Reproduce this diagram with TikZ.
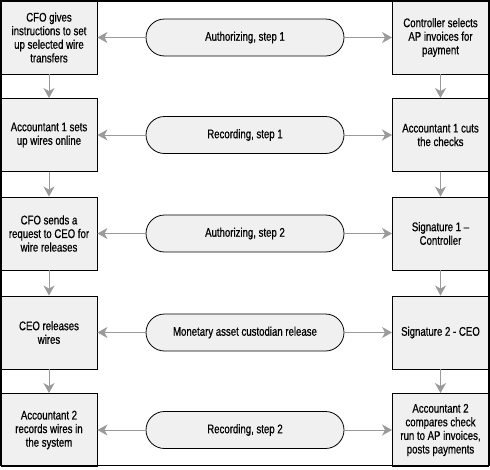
\documentclass[tikz,border=0pt]{standalone}
\usepackage{fontspec}
\setmainfont{Liberation Sans}[FakeStretch=0.77,FakeBold=0.6]
\usetikzlibrary{arrows.meta}
\definecolor{boxfill}{HTML}{F0F0F0}
\definecolor{arrowgray}{HTML}{9A9A9A}
\begin{document}
\begin{tikzpicture}[x=1pt,y=1pt,
  proc/.style={draw=black,line width=0.9pt,fill=boxfill,minimum width=96pt,minimum height=73pt,
    align=center,inner sep=0pt,font=\fontsize{12.5}{13.6}\selectfont},
  pill/.style={draw=black,line width=0.8pt,fill=boxfill,rounded corners=18.5pt,minimum width=198pt,minimum height=37pt,
    inner sep=0pt,font=\fontsize{12.5}{13.6}\selectfont},
  conn/.style={draw=arrowgray,line width=1pt,-{Stealth[length=10pt,width=11pt,inset=3pt]}}]
\useasboundingbox (0,0) rectangle (490,-469);
% left column
\node[proc] (L1) at (49,-37.5) {CFO gives\\instructions to set\\up selected wire\\transfers};
\node[proc] (L2) at (49,-135) {Accountant 1 sets\\up wires online};
\node[proc] (L3) at (49,-233.5) {CFO sends a\\request to CEO for\\wire releases};
\node[proc] (L4) at (49,-332.5) {CEO releases\\wires};
\node[proc] (L5) at (49,-430) {Accountant 2\\records wires in\\the system};
% right column
\node[proc] (R1) at (440.5,-37.5) {Controller selects\\AP invoices for\\payment};
\node[proc] (R2) at (440.5,-135) {Accountant 1 cuts\\the checks};
\node[proc] (R3) at (440.5,-233.5) {Signature 1 --\\Controller};
\node[proc] (R4) at (440.5,-332.5) {Signature 2 - CEO};
\node[proc] (R5) at (440.5,-430) {Accountant 2\\compares check\\run to AP invoices,\\posts payments};
% middle pills
\node[pill] (M1) at (245,-37.5) {Authorizing, step 1};
\node[pill] (M2) at (245,-135) {Recording, step 1};
\node[pill] (M3) at (245,-233.5) {Authorizing, step 2};
\node[pill] (M4) at (245,-332.5) {Monetary asset custodian release};
\node[pill] (M5) at (245,-430) {Recording, step 2};
% connectors
\foreach \i in {1,...,5}{
  \draw[conn] (M\i.west) -- (L\i.east);
  \draw[conn] (M\i.east) -- (R\i.west);
}
\foreach \i/\j in {1/2,2/3,3/4,4/5}{
  \draw[conn] (L\i.south) -- (L\j.north);
  \draw[conn] (R\i.south) -- (R\j.north);
}
% outer frame
\draw[line width=1.6pt] (0.8,-0.8) rectangle (489.2,-465.5);
\end{tikzpicture}
\end{document}
